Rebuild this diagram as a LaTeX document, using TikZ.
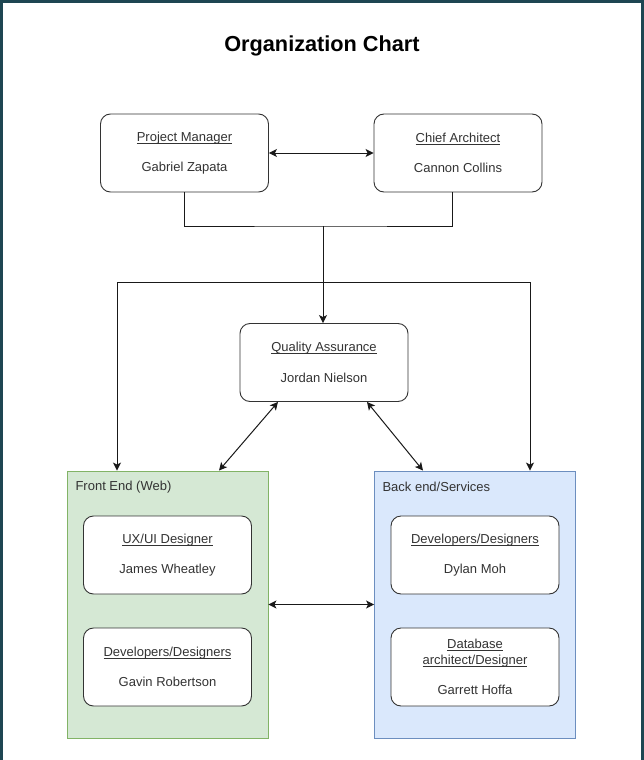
\documentclass[tikz,border=0pt]{standalone}
\usepackage{fontspec}
\setmainfont{Liberation Sans}
\usetikzlibrary{arrows.meta}
\definecolor{frame}{HTML}{1E4652}
\definecolor{txt}{HTML}{333333}
\definecolor{feFill}{HTML}{D5E8D4}
\definecolor{feDraw}{HTML}{82B366}
\definecolor{beFill}{HTML}{DAE8FC}
\definecolor{beDraw}{HTML}{6C8EBF}
% underline at a fixed depth, as the drawing tool does
\newcommand{\ulrole}[1]{\setbox0\hbox{#1}\rlap{\rule[-2pt]{\wd0}{0.6pt}}\box0}

\begin{document}
\begin{tikzpicture}[x=1pt,y=-1pt,
    role/.style={draw=black!80,fill=white,rounded corners=10pt,line width=0.9pt,
      minimum width=168pt,minimum height=78pt,align=center,text=txt,
      font=\fontsize{13}{15.5}\selectfont,inner sep=0pt},
    team/.style={line width=0.9pt,minimum width=201pt,minimum height=267pt,inner sep=0pt},
    link/.style={line width=1pt,draw=black!90},
    tip/.style={-{Stealth[length=8pt,width=8pt,inset=2pt]}},
    both/.style={{Stealth[length=8pt,width=8pt,inset=2pt]}-{Stealth[length=8pt,width=8pt,inset=2pt]}}]
  \useasboundingbox (0,0) rectangle (644,760);
  \fill[white] (0,0) rectangle (644,760);
  \fill[frame] (0,0) rectangle (644,3);
  \fill[frame] (0,0) rectangle (3,760);
  \fill[frame] (641,0) rectangle (644,760);

  \node (title) at (322,46) {\fontsize{21.7}{26}\selectfont\bfseries Organization Chart};

  % top level
  \node[role] (pm) at (184.5,153) {\ulrole{Project Manager}\\[15pt]Gabriel Zapata};
  \node[role] (ca) at (458,153) {\ulrole{Chief Architect}\\[15pt]Cannon Collins};
  \node[role] (qa) at (324,362.5) {\ulrole{Quality Assurance}\\[15pt]Jordan Nielson};

  % teams
  \node[team,fill=feFill,draw=feDraw] (fe) at (167.5,604.5) {};
  \node[team,fill=beFill,draw=beDraw] (be) at (475,604.5) {};
  \node[anchor=west,text=txt,font=\fontsize{13}{15.5}\selectfont] (feLbl) at (72,487) {Front End (Web)};
  \node[anchor=west,text=txt,font=\fontsize{13}{15.5}\selectfont] (beLbl) at (379,487) {Back end/Services};

  \node[role] (ux) at (167.5,555) {\ulrole{UX/UI Designer}\\[15pt]James Wheatley};
  \node[role] (feDev) at (167.5,667) {\ulrole{Developers/Designers}\\[15pt]Gavin Robertson};
  \node[role] (beDev) at (475,555) {\ulrole{Developers/Designers}\\[15pt]Dylan Moh};
  \node[role] (db) at (475,667) {\ulrole{Database}\\[0pt]\ulrole{architect/Designer}\\[15pt]Garrett Hoffa};

  % connectors
  \coordinate (join) at (323,226);
  \coordinate (split) at (323,282);
  \draw[link,both] (pm.east) -- (ca.west);
  \draw[link] (pm.south -| 184,0) |- (join) -| (ca.south -| 452,0);
  \draw[link,tip] (join) -- (qa.north -| join);
  \draw[link,tip] (117,282) -- (fe.north -| 117,0);
  \draw[link] (117,282) -- (530,282);
  \draw[link,tip] (530,282) -- (be.north -| 530,0);
  \draw[link,both] (qa.south -| 278,0) -- (fe.north -| 219,0);
  \draw[link,both] (qa.south -| 367,0) -- (be.north -| 423,0);
  \draw[link,both] (fe.east) -- (be.west);
\end{tikzpicture}
\end{document}
